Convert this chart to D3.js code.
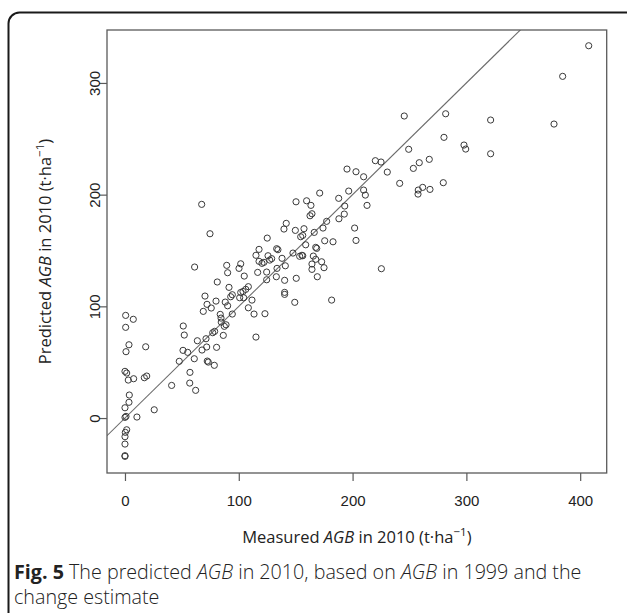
<!DOCTYPE html>
<html>
<head>
<meta charset="utf-8">
<script src="https://cdn.jsdelivr.net/npm/d3@7"></script>
<style>
  html, body { margin: 0; padding: 0; background: #fff; }
  svg { display: block; }
</style>
</head>
<body>
<svg id="chart" width="627" height="613"></svg>
<script>
// ---- data ----
const measured = [
  0.6, 7.3, 0.6, 3.5, 0.9, 18.2, 0, 1.5, 2.9, 7.6, 17, 19.1, 3.8, 3.5, 0, 0.9, 0, 10.5, 25.7, 1.5, 0.3, 0, 0, 0, 0,
  41, 51.2, 52.1, 47.7, 51, 55.1, 57.1, 56.9, 62.1, 60.9, 63.6, 67.7, 71.8, 71.2, 72.3, 73.2, 78.5, 80.5, 77.1, 78.8, 86.4, 115.1,
  67.4, 74.7, 61.2,
  101.7, 89.4, 100.2, 90.2, 104.8, 116.6, 124.5, 81.1, 91.4, 94.3, 92.9, 101.7, 103.7, 104.3, 100.8, 106.1, 108.4, 111.6, 108.4, 113.4, 123,
  70.3, 72.1, 75.8, 68.8, 80, 88.1, 90.2, 94.3, 83.7, 84.4, 84.6, 87.3, 88.8,
  125, 117.8, 133.3, 134.4, 115.1, 125.7, 128.9, 127.2, 117.8, 122.1, 120.4, 138, 147.6, 153.5, 155.5, 133.6, 140.9, 133, 124.5, 140.3, 150.5, 140.3, 140.3, 149.2,
  141.7, 139.7, 149.7, 150.3, 154.4,
  159.6, 163.4, 164.3, 162.6, 157.3, 156.2, 166.3, 174, 177.2, 171.1, 158.8, 167.6, 168.5, 156.2, 165.5, 167.6, 172.8, 164.3, 164.3, 174.9, 169, 175.5, 182.8, 181.6,
  187.8, 193.1, 192.7, 188, 201.8, 203, 196.6, 209.7, 211.2, 212.7, 195.1, 203, 209.7, 220, 225, 230.5, 225.3,
  245.4, 249.3, 253.4, 258.6, 267.4, 241.4, 261.6, 257.7, 257.5, 268, 279.7, 280.3, 281.8, 297.9, 299.4, 321.3, 321.3, 377, 384.6, 407.5
];
const predicted = [
  91.9, 88.4, 81.2, 65.6, 59.4, 63.8, 41.8, 40.3, 34, 35.2, 36.1, 37.6, 20.6, 14.1, 9.2, 1.5, 0.6, 0.9, 7.4, -10.5, -12.8, -16.7, -23.3, -33.7, -34.3,
  29.2, 82.4, 74.3, 50.8, 60.6, 58.8, 40.9, 31.3, 24.8, 53.1, 69.2, 60.9, 63.6, 71, 51, 50.1, 47.2, 63.3, 76.4, 77.6, 74, 72.5,
  191.3, 165, 135.2,
  138.1, 136.7, 134, 130.1, 127.1, 130.4, 130.7, 121.8, 117, 110.4, 108.6, 112.4, 113.3, 107.7, 107.7, 115.2, 117.6, 105.6, 98.7, 93.1, 93.4,
  109.2, 101.8, 98.5, 95.5, 104.7, 103.8, 100.5, 93.1, 92.8, 89.5, 85.9, 82.1, 83.5,
  161.1, 151, 151.6, 150.7, 145.7, 145.3, 142.7, 141.4, 140.3, 139.4, 138.5, 143, 147.7, 144.8, 145.7, 134, 136.3, 126.5, 123.8, 123.3, 125.1, 112.5, 110.7, 103.6,
  174.3, 169.2, 168, 193.6, 162.3,
  194.5, 190.4, 182.9, 181.1, 169.5, 163.5, 166.2, 170.1, 176.1, 201.4, 155.1, 152.8, 151.9, 145.3, 145, 142.1, 139.9, 137.9, 133.1, 134.6, 126.5, 158.7, 157.8, 105.6,
  196.7, 189.8, 182.6, 178.4, 170.1, 159, 203.2, 204.1, 199.6, 190.4, 222.9, 220.5, 216, 230.4, 229.2, 220.2, 133.7,
  270.4, 240.6, 223.5, 228.6, 231.6, 210.1, 206.5, 204.1, 200.5, 204.7, 210.7, 251.3, 272.4, 244.4, 240.8, 266.8, 236.6, 263.2, 305.9, 333.3
];
const xTicks = [0, 100, 200, 300, 400];
const yTicks = [0, 100, 200, 300];
const refLine = [0, 1]; // intercept, slope (1:1 line)
const xDomain = [-15.8, 423.3];
const yDomain = [-49.2, 347.4];

// ---- drawing ----
const svg = d3.select("#chart");
const plot = { left: 107, right: 606.7, top: 30, bottom: 473 };

// outer frame
svg.append("rect")
  .attr("x", 8.5).attr("y", 12.5)
  .attr("width", 640).attr("height", 640)
  .attr("rx", 11).attr("ry", 11)
  .attr("fill", "none").attr("stroke", "#1a1a1a").attr("stroke-width", 2);

const x = d3.scaleLinear().domain(xDomain).range([plot.left, plot.right]);
const y = d3.scaleLinear().domain(yDomain).range([plot.bottom, plot.top]);

// reference line, clipped to plot
svg.append("clipPath").attr("id", "clip")
  .append("rect").attr("x", plot.left).attr("y", plot.top)
  .attr("width", plot.right - plot.left).attr("height", plot.bottom - plot.top);

const lx = xDomain;
svg.append("line")
  .attr("clip-path", "url(#clip)")
  .attr("x1", x(lx[0])).attr("y1", y(refLine[0] + refLine[1] * lx[0]))
  .attr("x2", x(lx[1])).attr("y2", y(refLine[0] + refLine[1] * lx[1]))
  .attr("stroke", "#6b6b6b").attr("stroke-width", 1.1);

// points
svg.append("g").selectAll("circle")
  .data(measured.map((m, i) => [m, predicted[i]]))
  .join("circle")
  .attr("cx", d => x(d[0])).attr("cy", d => y(d[1]))
  .attr("r", 3.1)
  .attr("fill", "none").attr("stroke", "#3a3a3a").attr("stroke-width", 1);

// plot box
svg.append("rect")
  .attr("x", plot.left).attr("y", plot.top)
  .attr("width", plot.right - plot.left).attr("height", plot.bottom - plot.top)
  .attr("fill", "none").attr("stroke", "#5a5a5a").attr("stroke-width", 1.3);

// x axis
const gx = svg.append("g").attr("transform", `translate(0,${plot.bottom})`)
  .call(d3.axisBottom(x).tickValues(xTicks).tickSize(8).tickFormat(d3.format("d")));
gx.select(".domain").remove();
gx.selectAll("line").attr("stroke", "#5a5a5a").attr("stroke-width", 1.2);
gx.selectAll("text")
  .attr("y", 28).attr("dy", "0.36em")
  .attr("font-family", "'Liberation Sans', Arial, sans-serif")
  .attr("font-size", 15).attr("fill", "#222");

// y axis
const gy = svg.append("g").attr("transform", `translate(${plot.left},0)`)
  .call(d3.axisLeft(y).tickValues(yTicks).tickSize(8).tickFormat(d3.format("d")));
gy.select(".domain").remove();
gy.selectAll("line").attr("stroke", "#5a5a5a").attr("stroke-width", 1.2);
gy.selectAll("text")
  .attr("x", null).attr("y", 0).attr("dy", "0.36em")
  .attr("text-anchor", "middle")
  .attr("transform", "translate(-12,0) rotate(-90)")
  .attr("font-family", "'Liberation Sans', Arial, sans-serif")
  .attr("font-size", 15).attr("fill", "#222");

// axis titles
const titleFont = "'Open Sans', 'Noto Sans', sans-serif";
function title(g, parts) {
  parts.forEach(p => {
    const t = g.append("tspan").text(p.t);
    if (p.i) t.attr("font-style", "italic");
    if (p.sup) t.attr("baseline-shift", "super").attr("font-size", "70%");
  });
}
const xt = svg.append("text")
  .attr("x", (plot.left + plot.right) / 2).attr("y", 543)
  .attr("text-anchor", "middle")
  .attr("font-family", titleFont).attr("font-size", 16.5).attr("fill", "#222");
title(xt, [{t: "Measured "}, {t: "AGB", i: true}, {t: " in 2010 (t·ha"}, {t: "−1", sup: true}, {t: ")"}]);

const yt = svg.append("text")
  .attr("transform", `translate(51,${(plot.top + plot.bottom) / 2}) rotate(-90)`)
  .attr("text-anchor", "middle")
  .attr("font-family", titleFont).attr("font-size", 16.5).attr("fill", "#222");
title(yt, [{t: "Predicted "}, {t: "AGB", i: true}, {t: " in 2010 (t·ha"}, {t: "−1", sup: true}, {t: ")"}]);

// caption
const cap1 = svg.append("text").attr("x", 14).attr("y", 579)
  .attr("font-family", titleFont).attr("font-size", 19.7).attr("fill", "#222");
cap1.append("tspan").attr("font-weight", "bold").text("Fig. 5");
cap1.append("tspan").attr("font-weight", 300).text(" The predicted ");
cap1.append("tspan").attr("font-weight", 300).attr("font-style", "italic").text("AGB");
cap1.append("tspan").attr("font-weight", 300).text(" in 2010, based on ");
cap1.append("tspan").attr("font-weight", 300).attr("font-style", "italic").text("AGB");
cap1.append("tspan").attr("font-weight", 300).text(" in 1999 and the");
svg.append("text").attr("x", 14).attr("y", 604)
  .attr("font-family", titleFont).attr("font-size", 19.7).attr("font-weight", 300).attr("fill", "#222")
  .text("change estimate");
</script>
</body>
</html>
